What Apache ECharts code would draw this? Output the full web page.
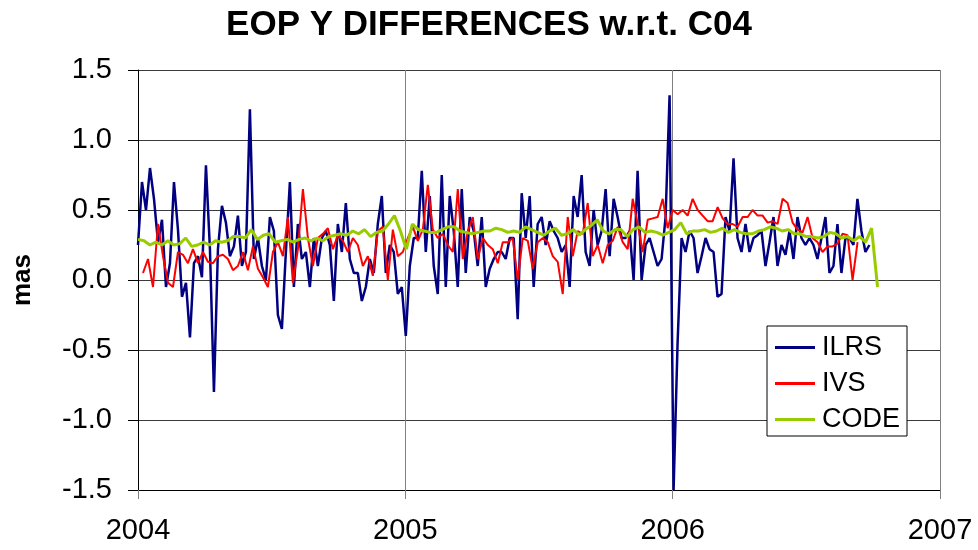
<!DOCTYPE html>
<html>
<head>
<meta charset="utf-8">
<script src="https://cdn.jsdelivr.net/npm/echarts@6/dist/echarts.min.js"></script>
<style>html,body{margin:0;padding:0;background:#fff}#c{width:978px;height:550px}</style>
</head>
<body>
<div id="c"></div>
<script>
// ---- data (mas) ----
const seriesNames = ['ILRS', 'IVS', 'CODE'];
const xTicks = [2004, 2005, 2006, 2007];
const yTicks = [-1.5, -1.0, -0.5, 0.0, 0.5, 1.0, 1.5];

// ILRS: evenly spaced samples from 2004.000 to 2006.736
const ilrsStart = 2004.0, ilrsEnd = 2006.736;
const ilrs = [
0.25,0.70,0.50,0.80,0.58,0.27,0.43,-0.05,0.12,0.70,
0.36,-0.12,-0.02,-0.41,0.12,0.17,0.02,0.82,0.22,-0.80,
0.22,0.53,0.41,0.17,0.24,0.46,0.10,0.20,1.22,0.15,
0.30,0.10,0.00,0.45,0.35,-0.25,-0.35,0.20,0.70,-0.05,
0.40,0.15,0.20,-0.05,0.30,0.10,0.30,0.35,0.25,-0.15,
0.40,0.20,0.55,0.15,0.05,0.05,-0.15,-0.05,0.15,0.05,
0.40,0.60,0.05,0.25,0.20,-0.10,-0.05,-0.40,0.10,0.30,
0.30,0.78,0.20,0.60,0.10,-0.10,0.75,-0.05,0.60,0.35,
-0.05,0.65,0.05,0.45,0.35,0.10,0.45,-0.05,0.08,0.15,
0.20,0.20,0.15,0.30,0.30,-0.28,0.62,0.30,0.60,-0.05,
0.40,0.45,0.25,0.42,0.35,0.30,0.20,0.25,-0.05,0.60,
0.45,0.75,0.20,0.10,0.50,0.25,0.35,0.65,0.17,0.58,
0.45,0.30,0.30,0.35,0.00,0.78,0.00,0.25,0.30,0.20,
0.10,0.15,0.45,1.32,-1.50,-0.45,0.30,0.20,0.35,0.30,
0.05,0.17,0.30,0.22,0.20,-0.12,-0.10,0.45,0.35,0.87,
0.30,0.20,0.40,0.20,0.30,0.32,0.35,0.10,0.27,0.45,
0.10,0.25,0.18,0.35,0.15,0.45,0.30,0.25,0.30,0.25,
0.15,0.30,0.45,0.05,0.10,0.40,0.05,0.30,0.30,0.25,
0.58,0.35,0.20,0.25
];

// IVS: evenly spaced samples from 2004.019 to 2006.692
const ivsStart = 2004.0187, ivsEnd = 2006.6916;
const ivs = [
0.05,0.15,-0.05,0.40,0.17,-0.02,-0.05,0.20,0.18,0.12,
0.22,0.12,0.20,0.13,0.12,0.17,0.18,0.15,0.07,0.10,
0.20,0.07,0.24,0.08,0.02,-0.05,0.20,0.27,0.17,0.45,
-0.02,0.22,0.65,0.30,0.10,0.30,0.33,0.37,0.22,0.32,
0.28,0.20,0.30,0.25,0.10,0.17,0.03,0.35,0.38,0.00,
0.36,0.17,0.20,0.30,0.38,0.28,0.36,0.68,0.36,0.30,
0.33,0.25,0.20,0.65,0.15,0.35,0.45,0.15,0.30,0.25,
0.22,0.12,0.27,0.27,0.30,0.00,0.30,0.28,0.08,0.27,
0.30,0.27,0.17,0.13,-0.10,0.45,0.17,0.35,0.33,0.55,
0.17,0.25,0.12,0.25,0.28,0.38,0.27,0.22,0.58,0.40,
0.20,0.43,0.44,0.45,0.58,0.37,0.50,0.47,0.50,0.46,
0.58,0.50,0.46,0.42,0.42,0.52,0.44,0.40,0.40,0.38,
0.45,0.45,0.50,0.46,0.46,0.41,0.42,0.40,0.58,0.55,
0.41,0.36,0.34,0.45,0.30,0.27,0.20,0.24,0.24,0.26,
0.33,0.32,0.00,0.27
];

// CODE: evenly spaced samples from 2004.000 to 2006.766
const codeStart = 2004.0, codeEnd = 2006.7664;
const code = [
0.29,0.28,0.25,0.27,0.25,0.28,0.25,0.26,0.30,0.24,0.25,0.27,0.25,0.28,0.27,0.28,0.31,
0.31,0.30,0.36,0.29,0.32,0.33,0.27,0.28,0.29,0.27,0.29,0.30,0.28,0.30,0.28,0.31,0.32,
0.33,0.32,0.35,0.33,0.36,0.31,0.34,0.35,0.40,0.46,0.35,0.22,0.40,0.36,0.35,0.34,0.34,
0.36,0.38,0.38,0.35,0.34,0.33,0.34,0.35,0.35,0.37,0.36,0.34,0.35,0.34,0.38,0.36,0.34,
0.32,0.35,0.37,0.32,0.33,0.36,0.32,0.36,0.39,0.43,0.35,0.33,0.36,0.36,0.31,0.36,0.38,
0.34,0.35,0.34,0.32,0.34,0.36,0.41,0.33,0.35,0.35,0.36,0.34,0.35,0.37,0.34,0.36,
0.34,0.33,0.33,0.35,0.36,0.38,0.37,0.35,0.36,0.33,0.33,0.31,0.31,0.30,0.31,0.34,0.33,
0.30,0.31,0.28,0.31,0.27,0.37,-0.05
];

function toPairs(vals, start, end) {
  const step = (end - start) / (vals.length - 1);
  return vals.map((v, i) => [start + i * step, v]);
}

const FONT = "'Liberation Sans', Arial, sans-serif";
const chart = echarts.init(document.getElementById('c'), null, {renderer: 'canvas'});
chart.setOption({
  animation: false,
  backgroundColor: '#ffffff',
  title: {
    text: 'EOP Y DIFFERENCES w.r.t. C04',
    left: 'center',
    top: 3,
    textStyle: {fontFamily: FONT, fontSize: 35, fontWeight: 'bold', color: '#000'}
  },
  grid: {left: 138, right: 38, top: 70, bottom: 60, containLabel: false},
  legend: {
    data: seriesNames,
    orient: 'vertical',
    left: 767,
    top: 326,
    icon: 'rect',
    itemWidth: 40,
    itemHeight: 3,
    itemGap: 9,
    padding: [8, 7, 3, 8],
    backgroundColor: '#ffffff',
    borderColor: '#000',
    borderWidth: 1,
    borderRadius: 0,
    textStyle: {fontFamily: FONT, fontSize: 27, lineHeight: 27, color: '#000', padding: [0, 0, 0, 2]}
  },
  xAxis: {
    type: 'value',
    min: xTicks[0],
    max: xTicks[xTicks.length - 1],
    interval: 1,
    axisLine: {show: true, onZero: false, lineStyle: {color: '#000', width: 1}},
    axisTick: {show: true, inside: false, length: 9, lineStyle: {color: '#808080'}},
    axisLabel: {margin: 26, fontFamily: FONT, fontSize: 29, color: '#000', formatter: v => String(v)},
    splitLine: {show: true, lineStyle: {color: '#808080', width: 1}}
  },
  yAxis: {
    type: 'value',
    min: yTicks[0],
    max: yTicks[yTicks.length - 1],
    interval: 0.5,
    name: 'mas',
    nameLocation: 'middle',
    nameGap: 102,
    nameTextStyle: {fontFamily: FONT, fontSize: 26, fontWeight: 'bold', color: '#000'},
    axisLine: {show: true, onZero: false, lineStyle: {color: '#000', width: 1}},
    axisTick: {show: true, inside: false, length: 10, lineStyle: {color: '#000'}},
    axisLabel: {margin: 26, fontFamily: FONT, fontSize: 29, color: '#000', formatter: v => v.toFixed(1)},
    splitLine: {show: true, lineStyle: {color: '#3a3a3a', width: 1}}
  },
  series: [
    {name: seriesNames[0], type: 'line', data: toPairs(ilrs, ilrsStart, ilrsEnd), showSymbol: false, symbol: 'none',
     color: '#000080', lineStyle: {color: '#000080', width: 2.5}, z: 2},
    {name: seriesNames[1], type: 'line', data: toPairs(ivs, ivsStart, ivsEnd), showSymbol: false, symbol: 'none',
     color: '#ff0000', lineStyle: {color: '#ff0000', width: 2}, z: 3},
    {name: seriesNames[2], type: 'line', data: toPairs(code, codeStart, codeEnd), showSymbol: false, symbol: 'none',
     color: '#99cc00', lineStyle: {color: '#99cc00', width: 3}, z: 4}
  ]
});
</script>
</body>
</html>
